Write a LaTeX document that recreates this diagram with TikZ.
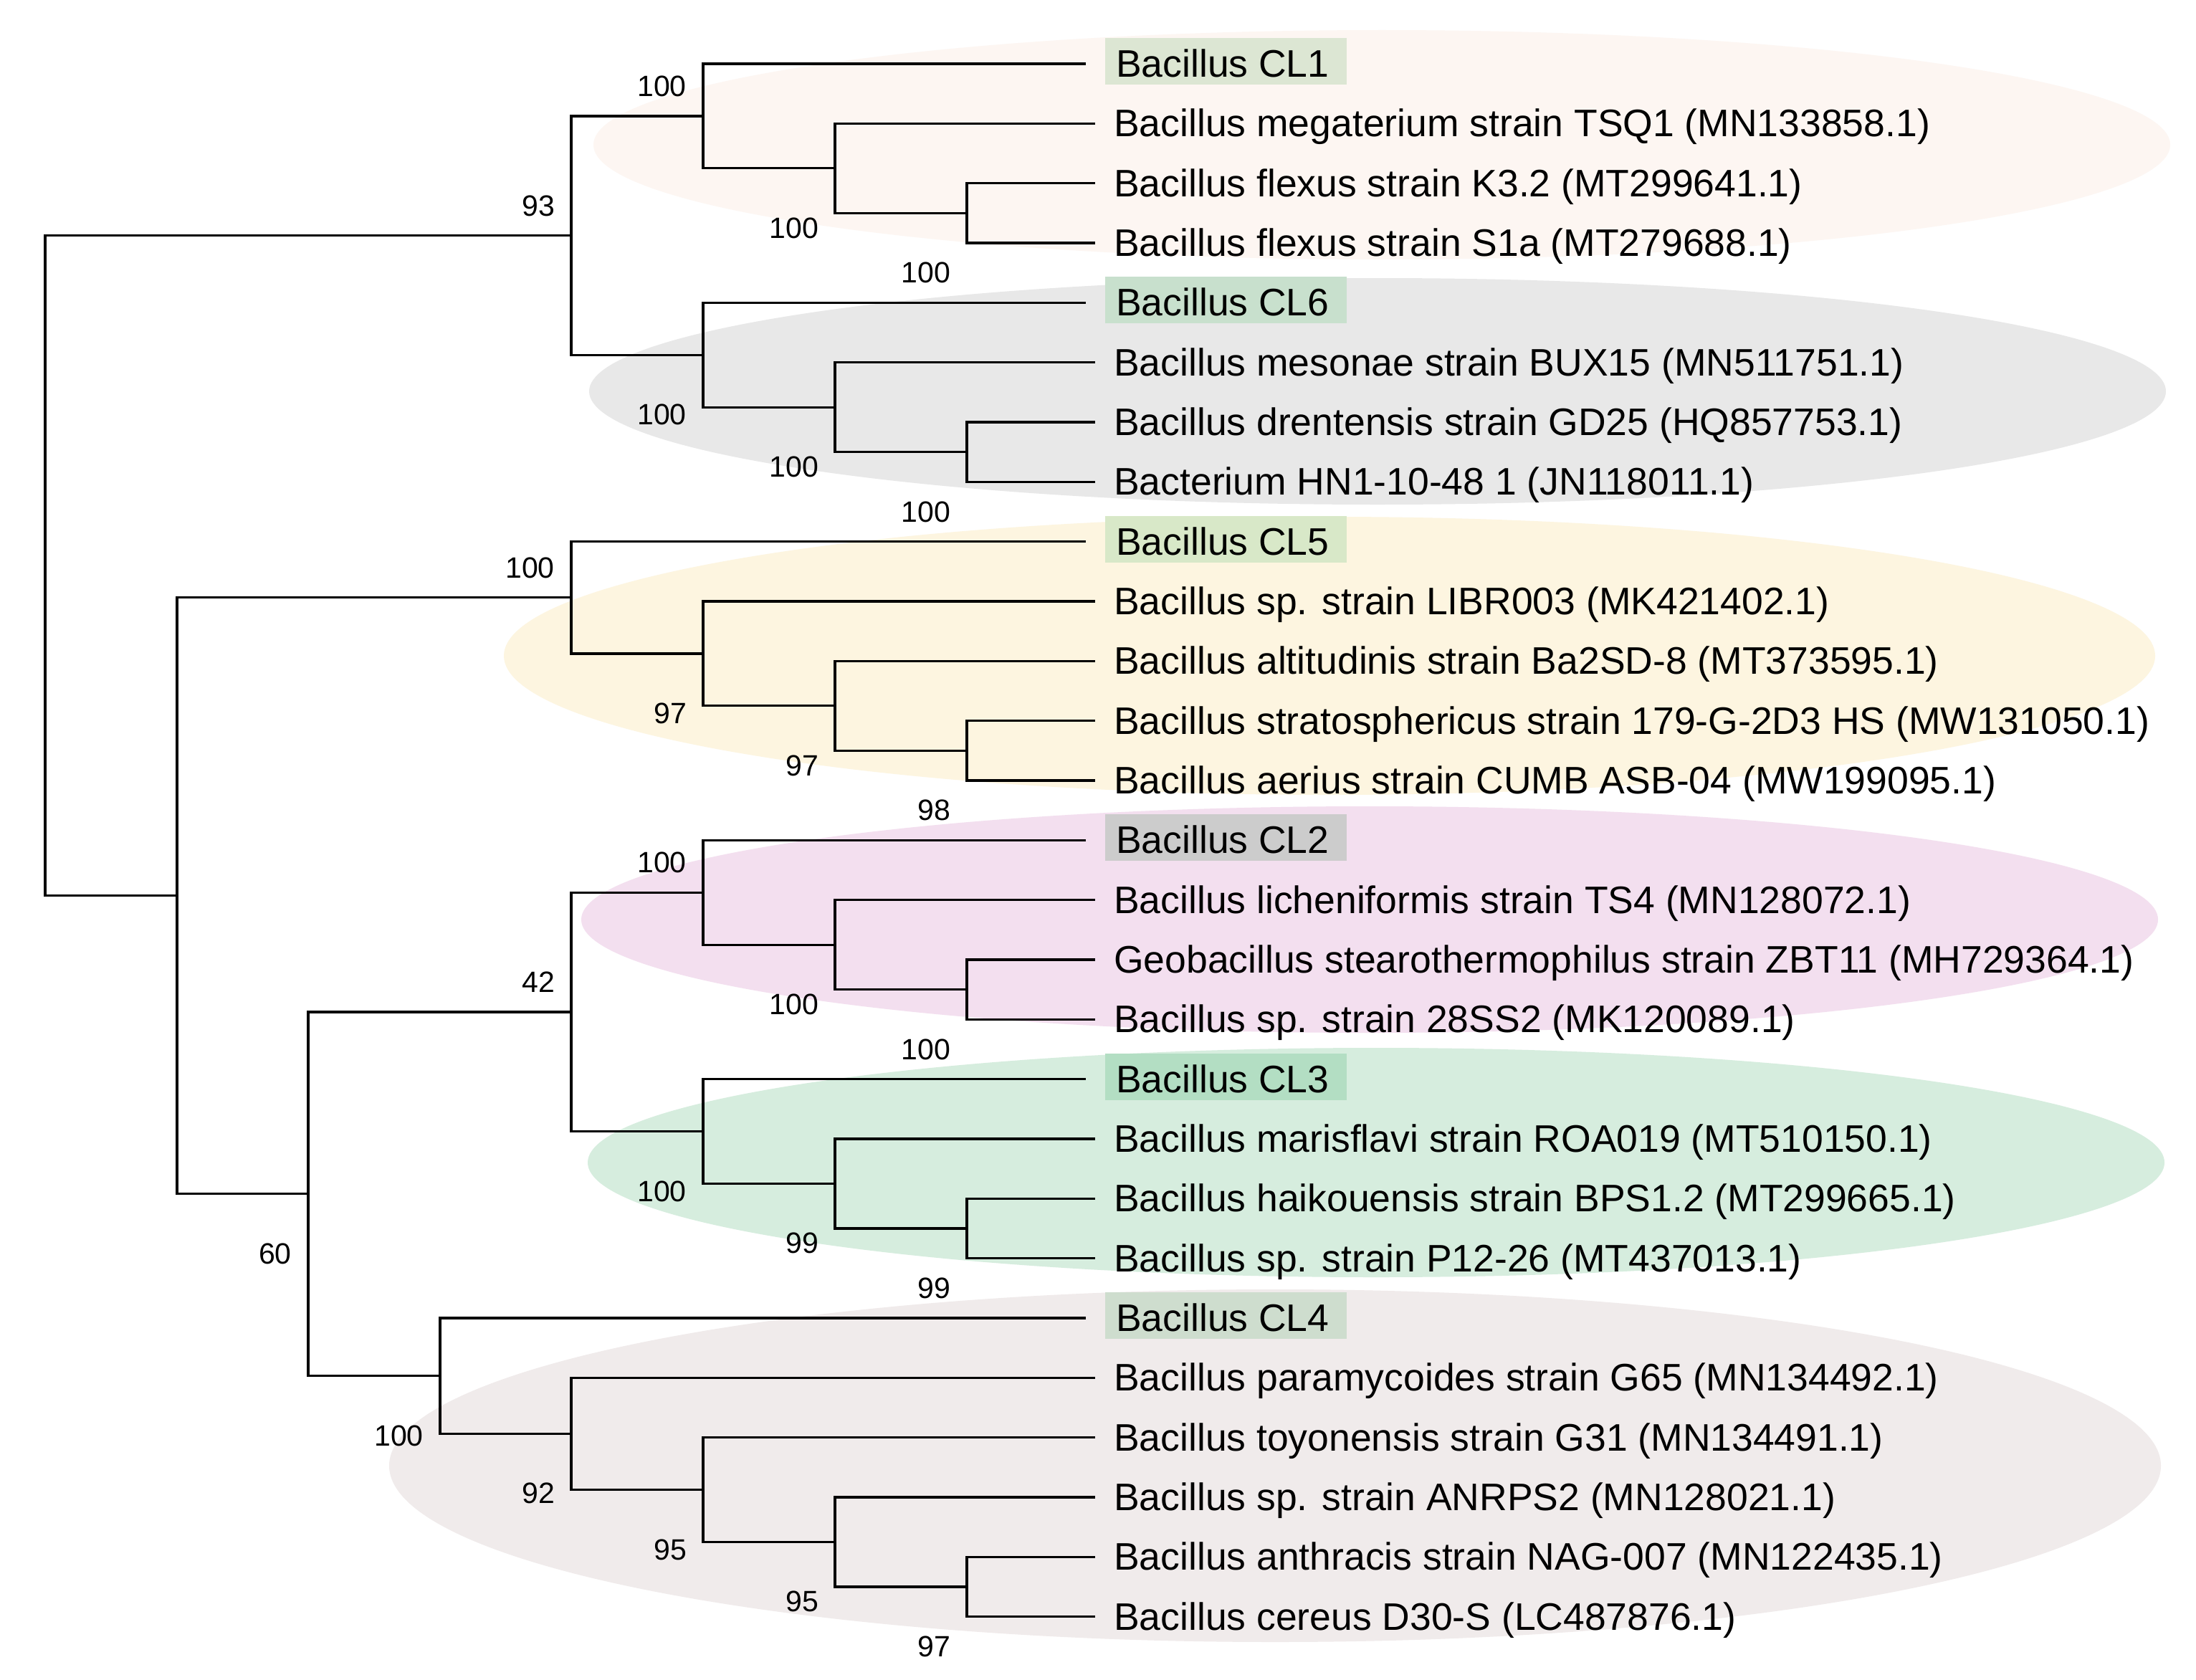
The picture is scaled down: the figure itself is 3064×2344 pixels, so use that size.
\documentclass[tikz,border=0pt]{standalone}
\usepackage{fontspec}
\setmainfont{Liberation Sans}
\definecolor{ePeach}{RGB}{253,246,242}
\definecolor{eGrey}{RGB}{232,232,232}
\definecolor{eYellow}{RGB}{253,245,224}
\definecolor{ePink}{RGB}{243,223,239}
\definecolor{eGreen}{RGB}{214,237,222}
\definecolor{eBrown}{RGB}{240,235,235}
\definecolor{bCLa}{RGB}{220,230,211}
\definecolor{bCLb}{RGB}{204,204,204}
\definecolor{bCLc}{RGB}{179,222,195}
\definecolor{bCLd}{RGB}{206,221,206}
\definecolor{bCLe}{RGB}{216,232,200}
\definecolor{bCLf}{RGB}{200,224,205}
\begin{document}
\begin{tikzpicture}[x=1pt,y=-1pt,
  branch/.style={line width=3.2pt, black},
  leaf/.style={anchor=base west, inner sep=0pt, font=\fontsize{53.5}{60}\selectfont},
  bslabel/.style={anchor=east, inner sep=0pt, font=\fontsize{41}{48}\selectfont},
  clbox/.style={inner sep=0pt, minimum width=337pt, minimum height=65pt}]
\useasboundingbox (0,0) rectangle (3064,2344);
\fill[white] (0,0) rectangle (3064,2344);
% background ellipses
\fill[ePeach]  (1928,202)  ellipse [x radius=1100pt, y radius=160pt];
\fill[eGrey]   (1922,546)  ellipse [x radius=1100pt, y radius=158pt];
\fill[eYellow] (1855,915)  ellipse [x radius=1152pt, y radius=194pt];
\fill[ePink]   (1911,1283) ellipse [x radius=1100pt, y radius=158pt];
\fill[eGreen]  (1920,1622) ellipse [x radius=1100pt, y radius=160pt];
\fill[eBrown]  (1779,2045) ellipse [x radius=1236pt, y radius=246pt];
% CL highlight boxes
\node[clbox, fill=bCLa] (bx1) at (1710.5,85.5) {};
\node[clbox, fill=bCLf] (bx6) at (1710.5,418.8) {};
\node[clbox, fill=bCLe] (bx5) at (1710.5,752.2) {};
\node[clbox, fill=bCLb] (bx2) at (1710.5,1168.8) {};
\node[clbox, fill=bCLc] (bx3) at (1710.5,1502.2) {};
\node[clbox, fill=bCLd] (bx4) at (1710.5,1835.5) {};
% leaf ends
\coordinate (L0) at (1515,89);
\coordinate (L1) at (1528,172.33);
\coordinate (L2) at (1528,255.67);
\coordinate (L3) at (1528,339);
\coordinate (L4) at (1515,422.33);
\coordinate (L5) at (1528,505.67);
\coordinate (L6) at (1528,589);
\coordinate (L7) at (1528,672.33);
\coordinate (L8) at (1515,755.67);
\coordinate (L9) at (1528,839);
\coordinate (L10) at (1528,922.33);
\coordinate (L11) at (1528,1005.67);
\coordinate (L12) at (1528,1089);
\coordinate (L13) at (1515,1172.33);
\coordinate (L14) at (1528,1255.67);
\coordinate (L15) at (1528,1339);
\coordinate (L16) at (1528,1422.33);
\coordinate (L17) at (1515,1505.67);
\coordinate (L18) at (1528,1589);
\coordinate (L19) at (1528,1672.33);
\coordinate (L20) at (1528,1755.67);
\coordinate (L21) at (1515,1839);
\coordinate (L22) at (1528,1922.33);
\coordinate (L23) at (1528,2005.67);
\coordinate (L24) at (1528,2089);
\coordinate (L25) at (1528,2172.33);
\coordinate (L26) at (1528,2255.67);
% internal nodes
\coordinate (c1C) at (1349,297.33);
\coordinate (c1B) at (1165,234.83);
\coordinate (c1A) at (981,161.92);
\coordinate (c6C) at (1349,630.67);
\coordinate (c6B) at (1165,568.17);
\coordinate (c6A) at (981,495.25);
\coordinate (n93) at (797,328.58);
\coordinate (c5D) at (1349,1047.33);
\coordinate (c5C) at (1165,984.83);
\coordinate (c5B) at (981,911.92);
\coordinate (c5A) at (797,833.79);
\coordinate (c2C) at (1349,1380.67);
\coordinate (c2B) at (1165,1318.17);
\coordinate (c2A) at (981,1245.25);
\coordinate (c3C) at (1349,1714);
\coordinate (c3B) at (1165,1651.5);
\coordinate (c3A) at (981,1578.58);
\coordinate (n42) at (797,1411.92);
\coordinate (c4E) at (1349,2214);
\coordinate (c4D) at (1165,2151.5);
\coordinate (c4C) at (981,2078.58);
\coordinate (c4B) at (797,2000.46);
\coordinate (c4A) at (614,1919.73);
\coordinate (n430) at (430,1665.82);
\coordinate (n247) at (247,1249.8);
\coordinate (root) at (63,789.19);
% branches
\draw[branch] (root) |- (n93);  \draw[branch] (root) |- (n247);
\draw[branch] (n93) |- (c1A);   \draw[branch] (n93) |- (c6A);
\draw[branch] (c1A) |- (L0);    \draw[branch] (c1A) |- (c1B);
\draw[branch] (c1B) |- (L1);    \draw[branch] (c1B) |- (c1C);
\draw[branch] (c1C) |- (L2);    \draw[branch] (c1C) |- (L3);
\draw[branch] (c6A) |- (L4);    \draw[branch] (c6A) |- (c6B);
\draw[branch] (c6B) |- (L5);    \draw[branch] (c6B) |- (c6C);
\draw[branch] (c6C) |- (L6);    \draw[branch] (c6C) |- (L7);
\draw[branch] (n247) |- (c5A);  \draw[branch] (n247) |- (n430);
\draw[branch] (c5A) |- (L8);    \draw[branch] (c5A) |- (c5B);
\draw[branch] (c5B) |- (L9);    \draw[branch] (c5B) |- (c5C);
\draw[branch] (c5C) |- (L10);   \draw[branch] (c5C) |- (c5D);
\draw[branch] (c5D) |- (L11);   \draw[branch] (c5D) |- (L12);
\draw[branch] (n430) |- (n42);  \draw[branch] (n430) |- (c4A);
\draw[branch] (n42) |- (c2A);   \draw[branch] (n42) |- (c3A);
\draw[branch] (c2A) |- (L13);   \draw[branch] (c2A) |- (c2B);
\draw[branch] (c2B) |- (L14);   \draw[branch] (c2B) |- (c2C);
\draw[branch] (c2C) |- (L15);   \draw[branch] (c2C) |- (L16);
\draw[branch] (c3A) |- (L17);   \draw[branch] (c3A) |- (c3B);
\draw[branch] (c3B) |- (L18);   \draw[branch] (c3B) |- (c3C);
\draw[branch] (c3C) |- (L19);   \draw[branch] (c3C) |- (L20);
\draw[branch] (c4A) |- (L21);   \draw[branch] (c4A) |- (c4B);
\draw[branch] (c4B) |- (L22);   \draw[branch] (c4B) |- (c4C);
\draw[branch] (c4C) |- (L23);   \draw[branch] (c4C) |- (c4D);
\draw[branch] (c4D) |- (L24);   \draw[branch] (c4D) |- (c4E);
\draw[branch] (c4E) |- (L25);   \draw[branch] (c4E) |- (L26);
% leaf labels
\node[leaf] (t0) at (1557,107.5) {Bacillus CL1};
\node[leaf] (t1) at (1554,190.8) {Bacillus megaterium strain TSQ1 (MN133858.1)};
\node[leaf] (t2) at (1554,274.2) {Bacillus flexus strain K3.2 (MT299641.1)};
\node[leaf] (t3) at (1554,357.5) {Bacillus flexus strain S1a (MT279688.1)};
\node[leaf] (t4) at (1557,440.8) {Bacillus CL6};
\node[leaf] (t5) at (1554,524.2) {Bacillus mesonae strain BUX15 (MN511751.1)};
\node[leaf] (t6) at (1554,607.5) {Bacillus drentensis strain GD25 (HQ857753.1)};
\node[leaf] (t7) at (1554,690.8) {Bacterium HN1-10-48 1 (JN118011.1)};
\node[leaf] (t8) at (1557,774.2) {Bacillus CL5};
\node[leaf] (t9) at (1554,857.5) {Bacillus sp. strain LIBR003 (MK421402.1)};
\node[leaf] (t10) at (1554,940.8) {Bacillus altitudinis strain Ba2SD-8 (MT373595.1)};
\node[leaf] (t11) at (1554,1024.2) {Bacillus stratosphericus strain 179-G-2D3 HS (MW131050.1)};
\node[leaf] (t12) at (1554,1107.5) {Bacillus aerius strain CUMB ASB-04 (MW199095.1)};
\node[leaf] (t13) at (1557,1190.8) {Bacillus CL2};
\node[leaf] (t14) at (1554,1274.2) {Bacillus licheniformis strain TS4 (MN128072.1)};
\node[leaf] (t15) at (1554,1357.5) {Geobacillus stearothermophilus strain ZBT11 (MH729364.1)};
\node[leaf] (t16) at (1554,1440.8) {Bacillus sp. strain 28SS2 (MK120089.1)};
\node[leaf] (t17) at (1557,1524.2) {Bacillus CL3};
\node[leaf] (t18) at (1554,1607.5) {Bacillus marisflavi strain ROA019 (MT510150.1)};
\node[leaf] (t19) at (1554,1690.8) {Bacillus haikouensis strain BPS1.2 (MT299665.1)};
\node[leaf] (t20) at (1554,1774.2) {Bacillus sp. strain P12-26 (MT437013.1)};
\node[leaf] (t21) at (1557,1857.5) {Bacillus CL4};
\node[leaf] (t22) at (1554,1940.8) {Bacillus paramycoides strain G65 (MN134492.1)};
\node[leaf] (t23) at (1554,2024.2) {Bacillus toyonensis strain G31 (MN134491.1)};
\node[leaf] (t24) at (1554,2107.5) {Bacillus sp. strain ANRPS2 (MN128021.1)};
\node[leaf] (t25) at (1554,2190.8) {Bacillus anthracis strain NAG-007 (MN122435.1)};
\node[leaf] (t26) at (1554,2274.2) {Bacillus cereus D30-S (LC487876.1)};
% bootstrap values
\node[bslabel] (s1) at (958,120.4) {100};
\node[bslabel] (s2) at (774,287.1) {93};
\node[bslabel] (s3) at (1142,318.3) {100};
\node[bslabel] (s4) at (1326,380.8) {100};
\node[bslabel] (s5) at (958,578.5) {100};
\node[bslabel] (s6) at (1142,651.5) {100};
\node[bslabel] (s7) at (1326,714) {100};
\node[bslabel] (s8) at (774,792.3) {100};
\node[bslabel] (s9) at (958,995.2) {97};
\node[bslabel] (s10) at (1142,1068.2) {97};
\node[bslabel] (s11) at (1326,1130.7) {98};
\node[bslabel] (s12) at (958,1203.8) {100};
\node[bslabel] (s13) at (774,1370.4) {42};
\node[bslabel] (s14) at (1142,1401.5) {100};
\node[bslabel] (s15) at (1326,1464) {100};
\node[bslabel] (s16) at (958,1661.9) {100};
\node[bslabel] (s17) at (1142,1734.8) {99};
\node[bslabel] (s18) at (1326,1797.3) {99};
\node[bslabel] (s19) at (407,1749.2) {60};
\node[bslabel] (s20) at (591,2003) {100};
\node[bslabel] (s21) at (774,2083.8) {92};
\node[bslabel] (s22) at (958,2161.9) {95};
\node[bslabel] (s23) at (1142,2234.8) {95};
\node[bslabel] (s24) at (1326,2297.3) {97};
\end{tikzpicture}
\end{document}
